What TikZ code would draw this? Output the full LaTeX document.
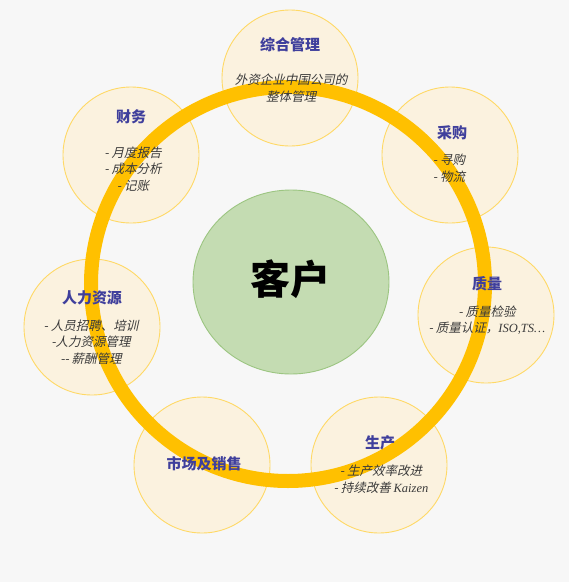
\documentclass[tikz,border=0pt]{standalone}
\usepackage{fontspec}
\usetikzlibrary{shapes.geometric}
\newfontfamily\cjk{Noto Sans CJK SC}
\newfontfamily\cjki[FakeSlant=0.22]{Noto Sans CJK SC}
\newfontfamily\latini{Liberation Serif}
\definecolor{bgc}{HTML}{F7F7F7}
\definecolor{cfill}{HTML}{FBF2DF}
\definecolor{cline}{HTML}{FFD966}
\definecolor{ringc}{HTML}{FFC000}
\definecolor{gfill}{HTML}{C4DCB2}
\definecolor{gline}{HTML}{9CC581}
\definecolor{titlec}{HTML}{3F3F9C}
\definecolor{itemc}{HTML}{3A3A3A}
\tikzset{
  smallc/.style={circle, fill=cfill, draw=cline, line width=0.9pt, minimum size=136pt, inner sep=0pt},
  ringnode/.style={circle, draw=ringc, line width=14pt, minimum size=394pt, inner sep=0pt},
  center/.style={ellipse, fill=gfill, draw=gline, line width=0.9pt, minimum width=196pt, minimum height=184pt, inner sep=0pt},
  ttl/.style={font=\cjk\bfseries\fontsize{15}{18}\selectfont, text=titlec, inner sep=0pt},
  itm/.style={font=\cjki\fontsize{12.5}{16.5}\selectfont, text=itemc, align=center, inner sep=0pt},
}
\begin{document}
\begin{tikzpicture}[x=1pt,y=-1pt]
\fill[bgc] (0,0) rectangle (569,582);
\useasboundingbox (0,0) rectangle (569,582);
% small circles
\node[smallc] (c1) at (290,78) {};
\node[smallc] (c2) at (131,155) {};
\node[smallc] (c3) at (450,155) {};
\node[smallc] (c4) at (486,315) {};
\node[smallc] (c5) at (92,327) {};
\node[smallc] (c6) at (202,465) {};
\node[smallc] (c7) at (379,465) {};
% ring
\node[ringnode] (ring) at (288,284) {};
% center
\node[center] (kh) at (291,282) {};
\node[font=\cjk\bfseries\fontsize{40}{44}\selectfont, text=black, inner sep=0pt] (khl) at (290,279) {客户};
% titles
\node[ttl] (t1) at (290,45) {综合管理};
\node[ttl] (t2) at (131,117) {财务};
\node[ttl] (t3) at (452,133) {采购};
\node[ttl] (t4) at (487,284) {质量};
\node[ttl] (t5) at (92,298) {人力资源};
\node[ttl] (t6) at (204,464) {市场及销售};
\node[ttl] (t7) at (380,443) {生产};
% items
\node[itm] (i1) at (291,88) {外资企业中国公司的\\整体管理};
\node[itm] (i2) at (133,169) {- 月度报告\\- 成本分析\\- 记账};
\node[itm] (i3) at (449,168) {- 寻购\\- 物流};
\node[itm] (i4) at (487,320) {- 质量检验\\- 质量认证，{\latini\itshape ISO,TS…}};
\node[itm] (i5) at (91,342) {- 人员招聘、培训\\-人力资源管理\\-- 薪酬管理};
\node[itm] (i6) at (381,479) {- 生产效率改进\\- 持续改善 {\latini\itshape Kaizen}};
\end{tikzpicture}
\end{document}
